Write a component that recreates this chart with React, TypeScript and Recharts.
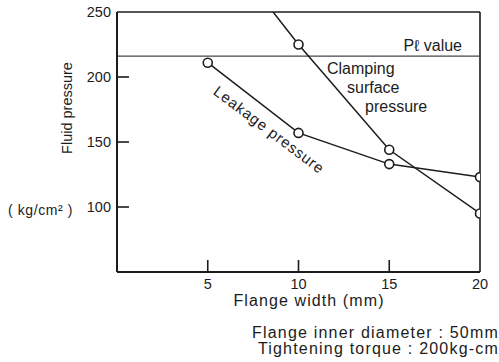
import { LineChart, Line, XAxis, YAxis, ReferenceLine } from 'recharts';

const flangeWidth = [5, 10, 15, 20];
const leakagePressure = [211, 157, 133, 123];
// clamping line runs off the top of the frame, first point has no marker
const clampingWidth = [8.6, 10, 15, 20];
const clampingPressure = [250, 225, 144, 95];
const plValue = 216;
const xTicks = [5, 10, 15, 20];
const yTicks = [100, 150, 200, 250];

const FONT = '"Liberation Sans", Arial, sans-serif';
const INK = '#1c1c1c';

const leakageData = flangeWidth.map((x, i) => ({ x, y: leakagePressure[i] }));
const clampingData = clampingWidth.map((x, i) => ({ x, y: clampingPressure[i] }));

const YTick = (props: any) => {
  const { x, y, payload } = props;
  const ax = x + 6;
  return (
    <g>
      {payload.value !== 250 && (
        <line x1={ax} x2={ax + 12} y1={y} y2={y} stroke={INK} strokeWidth={1.6} />
      )}
      <text x={x} y={y} dy={5} textAnchor="end" fontSize={14.5} fontFamily={FONT} fill={INK}>
        {payload.value}
      </text>
    </g>
  );
};

const XTick = (props: any) => {
  const { x, y, payload } = props;
  return (
    <g>
      {payload.value !== 20 && (
        <line x1={x} x2={x} y1={y} y2={y - 12} stroke={INK} strokeWidth={1.6} />
      )}
      <text x={x} y={y} dy={17} textAnchor="middle" fontSize={14.5} fontFamily={FONT} fill={INK}>
        {payload.value}
      </text>
    </g>
  );
};

const Ring = (props: any) => {
  const { cx, cy, index, hideFirst } = props;
  if (hideFirst && index === 0) return <g key={`d${index}`} />;
  return <circle key={`d${index}`} cx={cx} cy={cy} r={4.5} fill="#fff" stroke={INK} strokeWidth={1.6} />;
};

const txt = { fontFamily: FONT, fill: INK } as const;

export default function App() {
  return (
    <div style={{ position: 'fixed', left: 0, top: 0, width: 499, height: 362, background: '#fff' }}>
      <LineChart width={499} height={300} margin={{ top: 12, right: 19, bottom: 0, left: 0 }}>
        <XAxis
          dataKey="x"
          type="number"
          domain={[0, 20]}
          ticks={xTicks}
          tick={<XTick />}
          tickSize={0}
          tickMargin={0}
          height={28}
          axisLine={{ stroke: INK, strokeWidth: 2 }}
          tickLine={false}
          allowDataOverflow
        />
        <YAxis
          type="number"
          domain={[50, 250]}
          ticks={yTicks}
          tick={<YTick />}
          tickSize={0}
          tickMargin={6}
          width={117}
          axisLine={{ stroke: INK, strokeWidth: 2 }}
          tickLine={false}
          allowDataOverflow
        />
        <ReferenceLine y={250} stroke={INK} strokeWidth={1.6} />
        <ReferenceLine x={20} stroke={INK} strokeWidth={1.6} />
        <ReferenceLine y={plValue} stroke="#444" strokeWidth={1.2} />
        <Line
          data={leakageData}
          dataKey="y"
          stroke={INK}
          strokeWidth={1.5}
          dot={(p: any) => <Ring {...p} />}
          isAnimationActive={false}
        />
        <Line
          data={clampingData}
          dataKey="y"
          stroke={INK}
          strokeWidth={1.5}
          dot={(p: any) => <Ring {...p} hideFirst />}
          isAnimationActive={false}
        />
      </LineChart>
      <svg
        width={499}
        height={362}
        style={{ position: 'absolute', left: 0, top: 0, pointerEvents: 'none' }}
      >
        <text x={67} y={108} transform="rotate(-90 67 108)" textAnchor="middle" dy={5} fontSize={14.5} {...txt}>
          Fluid pressure
        </text>
        <text x={8} y={215} fontSize={14} letterSpacing={0.6} {...txt}>
          ( kg/cm² )
        </text>
        <text x={309} y={306} textAnchor="middle" fontSize={16} letterSpacing={1.1} {...txt}>
          Flange width (mm)
        </text>
        <text x={499} y={338} textAnchor="end" fontSize={16} letterSpacing={1.2} {...txt}>
          Flange inner diameter : 50mm
        </text>
        <text x={499} y={354} textAnchor="end" fontSize={16} letterSpacing={1.2} {...txt}>
          Tightening torque : 200kg-cm
        </text>
        <text x={462} y={51} textAnchor="end" fontSize={16} {...txt}>
          Pℓ value
        </text>
        <text x={327} y={74} fontSize={16} {...txt}>
          Clamping
        </text>
        <text x={347} y={93} fontSize={16} {...txt}>
          surface
        </text>
        <text x={365} y={112} fontSize={16} {...txt}>
          pressure
        </text>
        <text
          x={269}
          y={130}
          transform="rotate(37 269 130)"
          textAnchor="middle"
          dy={5}
          fontSize={15}
          letterSpacing={0.9}
          {...txt}
        >
          Leakage pressure
        </text>
      </svg>
    </div>
  );
}
